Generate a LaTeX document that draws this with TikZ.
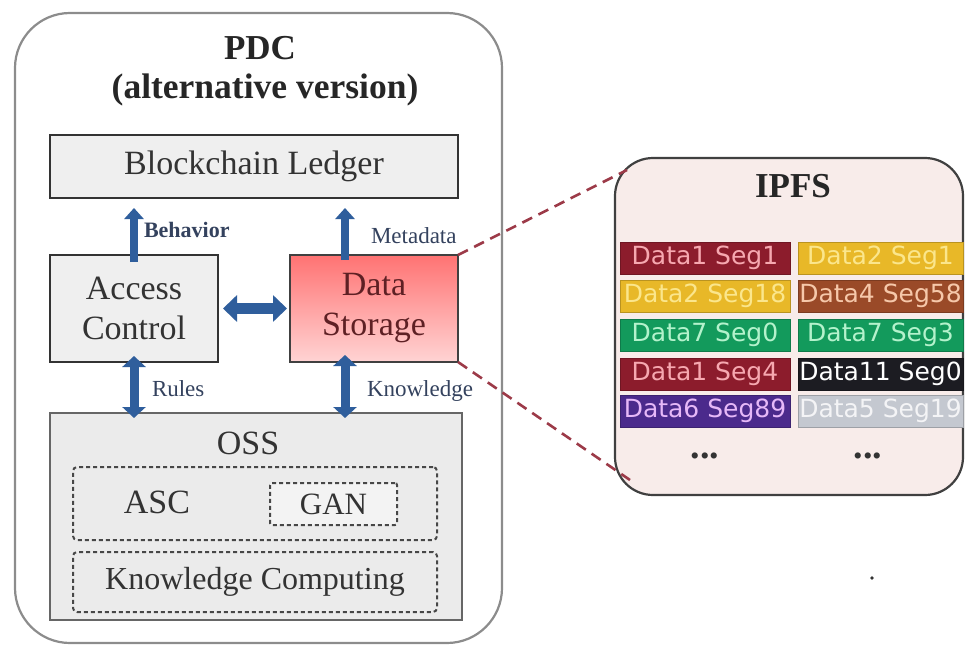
\documentclass[tikz,border=0pt]{standalone}
\usepackage{fontspec}
\setmainfont{Liberation Serif}
\newfontfamily\cellfont{DejaVu Sans}
\usetikzlibrary{arrows.meta}

\definecolor{flowblue}{HTML}{2F5E9C}
\definecolor{labelblue}{HTML}{34425E}
\definecolor{inktext}{HTML}{333333}
\definecolor{boxgray}{HTML}{EFEFEF}
\definecolor{ossgray}{HTML}{EBEBEB}
\definecolor{linkred}{HTML}{9C3A48}
\definecolor{ipfsbg}{HTML}{F8ECEA}
\definecolor{dsred}{HTML}{5E2024}
% segment colours: background / text
\definecolor{redbg}{HTML}{8C1C2C}\definecolor{redtx}{HTML}{F6A8B0}
\definecolor{yelbg}{HTML}{E8B828}\definecolor{yeltx}{HTML}{FBE68C}
\definecolor{brnbg}{HTML}{9A4A28}\definecolor{brntx}{HTML}{F6C8AA}
\definecolor{grnbg}{HTML}{139A5C}\definecolor{grntx}{HTML}{B4F2CC}
\definecolor{blkbg}{HTML}{1C1C22}\definecolor{blktx}{HTML}{FFFFFF}
\definecolor{purbg}{HTML}{4B2A8C}\definecolor{purtx}{HTML}{E6B8F8}
\definecolor{grybg}{HTML}{C4C8D0}\definecolor{grytx}{HTML}{F4F4F6}

\tikzset{
  every node/.style={inner sep=0pt, outer sep=0pt},
  bigtext/.style={font=\fontsize{34}{38}\selectfont, text=inktext},
  smalllabel/.style={font=\fontsize{23}{26}\selectfont, text=labelblue, anchor=west},
  solidbox/.style={draw=inktext, line width=2.4pt, bigtext, align=center},
  dashbox/.style={draw=inktext!90, line width=2pt, dash pattern=on 4pt off 3pt, rounded corners=4pt},
  uparrow/.style={draw=flowblue, line width=8pt, -{Triangle[length=11pt,width=19pt]}},
  hdouble/.style={draw=flowblue, line width=11pt, {Triangle[length=14pt,width=26pt]}-{Triangle[length=14pt,width=26pt]}},
  vdouble/.style={draw=flowblue, line width=9pt, {Triangle[length=11pt,width=23pt]}-{Triangle[length=11pt,width=23pt]}},
  zoomlink/.style={draw=linkred, line width=2.6pt, dash pattern=on 11pt off 7pt},
  seg/.style 2 args={fill=#1, draw=#1!80!black, line width=0.8pt, text=#2,
    minimum width=170pt, minimum height=32pt, font=\cellfont\fontsize{25}{28}\selectfont},
  ellipsis/.style={font=\bfseries\fontsize{38}{40}\selectfont, text=black!80},
}

\begin{document}
\begin{tikzpicture}[x=1pt, y=-1pt]
\useasboundingbox (0,0) rectangle (966,650);

% ---------- PDC container ----------
\node[draw=black!45, line width=2.2pt, fill=white, rounded corners=55pt,
      minimum width=487pt, minimum height=630pt] (pdc) at (258.5,328) {};
\node[font=\bfseries\fontsize{35}{40}\selectfont, text=black!85] (title) at (260,48) {PDC};
\node[font=\bfseries\fontsize{35.5}{40}\selectfont, text=black!85] (subtitle) at (265,90) {(alternative version)};

\node[solidbox, fill=boxgray, minimum width=408pt, minimum height=63pt] (ledger) at (254,166.5) {Blockchain Ledger};
\node[solidbox, fill=boxgray, minimum width=168pt, minimum height=107pt] (access) at (134,308.5) {Access\\[2pt]Control};
\node[solidbox, top color=red!55!white, bottom color=red!17!white, draw=black!75,
      text=dsred, minimum width=168pt, minimum height=107pt] (storage) at (374,308.5) {Data\\[2pt]Storage};

% OSS block
\node[draw=black!60, line width=2pt, fill=ossgray, minimum width=412pt, minimum height=207pt] (oss) at (256,516.5) {};
\node[bigtext] (osslabel) at (248,443) {OSS};
\node[dashbox, minimum width=364pt, minimum height=73pt] (asc) at (255,503.5) {};
\node[bigtext] (asclabel) at (157,502) {ASC};
\node[dashbox, fill=ossgray!60!white, rounded corners=2pt, minimum width=127pt, minimum height=42pt, bigtext,
      font=\fontsize{31}{34}\selectfont] (gan) at (333.5,504) {GAN};
\node[dashbox, bigtext, font=\fontsize{32}{36}\selectfont, minimum width=364pt, minimum height=60pt] (kc) at (255,582) {Knowledge Computing};

% ---------- flows inside PDC ----------
\draw[uparrow] ([yshift=-7pt]access.north) -- ([yshift=-10pt]access.north |- ledger.south);
\node[smalllabel, font=\bfseries\fontsize{22}{26}\selectfont] (lbehav) at (144,230) {Behavior};

\coordinate (metaFoot) at ([xshift=-29pt]storage.north);
\draw[uparrow] ([yshift=-5pt]metaFoot) -- ([yshift=-10pt]metaFoot |- ledger.south);
\node[smalllabel] (lmeta) at (371,236) {Metadata};

\draw[hdouble] ([xshift=5pt]access.east) -- ([xshift=-3pt]storage.west);

\draw[vdouble] ([yshift=6pt]access.south) -- ([yshift=-5pt]access.south |- oss.north);
\node[smalllabel] (lrules) at (152,389) {Rules};

\coordinate (knowFoot) at ([xshift=-29pt]storage.south);
\draw[vdouble] ([yshift=7pt]knowFoot) -- ([yshift=-5pt]knowFoot |- oss.north);
\node[smalllabel] (lknow) at (367,391) {Knowledge};

% ---------- IPFS store ----------
\node[draw=black!75, line width=2.2pt, fill=ipfsbg, rounded corners=38pt,
      minimum width=348pt, minimum height=337pt] (ipfs) at (789,326.5) {};
\node[font=\bfseries\fontsize{35}{40}\selectfont, text=black!85] (ipfstitle) at (793,186) {IPFS};

\node[seg={redbg}{redtx}] (s11) at (705,258) {Data1 Seg1};
\node[seg={yelbg}{yeltx}, minimum width=165pt] (s12) at (880.5,258) {Data2 Seg1};
\node[seg={yelbg}{yeltx}] (s21) at (705,296) {Data2 Seg18};
\node[seg={brnbg}{brntx}, minimum width=165pt] (s22) at (880.5,296) {Data4 Seg58};
\node[seg={grnbg}{grntx}] (s31) at (705,335) {Data7 Seg0};
\node[seg={grnbg}{grntx}, minimum width=165pt] (s32) at (880.5,335) {Data7 Seg3};
\node[seg={redbg}{redtx}] (s41) at (705,374) {Data1 Seg4};
\node[seg={blkbg}{blktx}, minimum width=165pt] (s42) at (880.5,374) {Data11 Seg0};
\node[seg={purbg}{purtx}] (s51) at (705,411) {Data6 Seg89};
\node[seg={grybg}{grytx}, minimum width=165pt] (s52) at (880.5,411) {Data5 Seg19};

\node[ellipsis] (more1) at (705,456) {...};
\node[ellipsis] (more2) at (868,456) {...};

% ---------- zoom links from Data Storage to IPFS ----------
\coordinate (ipfsTop) at (627,170);
\coordinate (ipfsBot) at (630,480);
\draw[zoomlink] (storage.north east) -- (ipfsTop);
\draw[zoomlink] (storage.south east) -- (ipfsBot);

% stray mark
\fill[black!80] (872,578) circle (1.8pt);
\end{tikzpicture}
\end{document}
